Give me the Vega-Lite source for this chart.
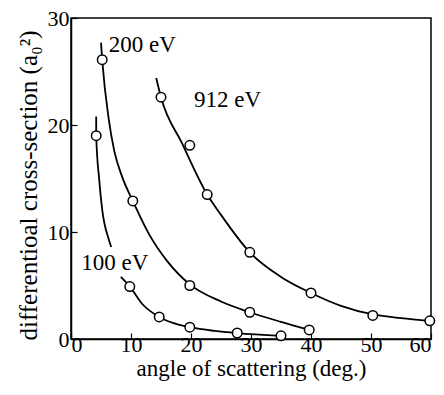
{
  "$schema": "https://vega.github.io/schema/vega-lite/v6.json",
  "width": 360,
  "height": 321,
  "autosize": "none",
  "padding": {"left": 71, "top": 18, "right": 13, "bottom": 56},
  "background": "white",
  "config": {
    "view": {"stroke": "black", "strokeWidth": 1.5},
    "font": "Liberation Serif",
    "axis": {
      "grid": false,
      "domainColor": "black",
      "domainWidth": 1.5,
      "tickColor": "black",
      "tickWidth": 1.2,
      "labelColor": "black",
      "titleColor": "black",
      "labelFont": "Liberation Serif",
      "titleFont": "Liberation Serif",
      "labelFontSize": 22,
      "titleFontSize": 23,
      "titleFontWeight": "normal"
    }
  },
  "datasets": {
    "curves": [
      {"series": "100a", "angle": 4.2, "xs": 20.8},
      {"series": "100a", "angle": 4.2, "xs": 19.0},
      {"series": "100a", "angle": 4.7, "xs": 14.9},
      {"series": "100a", "angle": 5.2, "xs": 12.1},
      {"series": "100a", "angle": 6.3, "xs": 9.3},
      {"series": "100a", "angle": 6.7, "xs": 8.6},
      {"series": "100b", "angle": 8.3, "xs": 5.8},
      {"series": "100b", "angle": 9.8, "xs": 4.9},
      {"series": "100b", "angle": 12.0, "xs": 3.2},
      {"series": "100b", "angle": 14.7, "xs": 2.06},
      {"series": "100b", "angle": 17.0, "xs": 1.5},
      {"series": "100b", "angle": 19.8, "xs": 1.1},
      {"series": "100b", "angle": 24.0, "xs": 0.75},
      {"series": "100b", "angle": 27.7, "xs": 0.55},
      {"series": "100b", "angle": 35.0, "xs": 0.3},
      {"series": "200", "angle": 5.0, "xs": 27.7},
      {"series": "200", "angle": 5.2, "xs": 26.1},
      {"series": "200", "angle": 6.3, "xs": 20.5},
      {"series": "200", "angle": 7.2, "xs": 17.6},
      {"series": "200", "angle": 8.5, "xs": 15.2},
      {"series": "200", "angle": 10.3, "xs": 12.9},
      {"series": "200", "angle": 13.0, "xs": 9.8},
      {"series": "200", "angle": 16.0, "xs": 7.3},
      {"series": "200", "angle": 19.8, "xs": 5.1},
      {"series": "200", "angle": 25.0, "xs": 3.5},
      {"series": "200", "angle": 29.8, "xs": 2.5},
      {"series": "200", "angle": 35.0, "xs": 1.6},
      {"series": "200", "angle": 39.7, "xs": 0.85},
      {"series": "912", "angle": 14.2, "xs": 24.4},
      {"series": "912", "angle": 15.0, "xs": 22.6},
      {"series": "912", "angle": 18.5, "xs": 18.3},
      {"series": "912", "angle": 22.7, "xs": 13.5},
      {"series": "912", "angle": 25.0, "xs": 11.6},
      {"series": "912", "angle": 29.8, "xs": 8.1},
      {"series": "912", "angle": 35.0, "xs": 5.8},
      {"series": "912", "angle": 40.0, "xs": 4.3},
      {"series": "912", "angle": 45.0, "xs": 3.1},
      {"series": "912", "angle": 50.3, "xs": 2.3},
      {"series": "912", "angle": 55.0, "xs": 1.95},
      {"series": "912", "angle": 59.8, "xs": 1.7}
    ],
    "points": [
      {"series": "100", "angle": 4.2, "xs": 19.0},
      {"series": "100", "angle": 9.8, "xs": 4.9},
      {"series": "100", "angle": 14.7, "xs": 2.06},
      {"series": "100", "angle": 19.8, "xs": 1.1},
      {"series": "100", "angle": 27.7, "xs": 0.56},
      {"series": "100", "angle": 35.0, "xs": 0.3},
      {"series": "200", "angle": 5.2, "xs": 26.1},
      {"series": "200", "angle": 10.3, "xs": 12.9},
      {"series": "200", "angle": 19.8, "xs": 5.0},
      {"series": "200", "angle": 29.8, "xs": 2.5},
      {"series": "200", "angle": 39.7, "xs": 0.85},
      {"series": "912", "angle": 15.0, "xs": 22.6},
      {"series": "912", "angle": 19.8, "xs": 18.1},
      {"series": "912", "angle": 22.7, "xs": 13.5},
      {"series": "912", "angle": 29.8, "xs": 8.1},
      {"series": "912", "angle": 40.0, "xs": 4.3},
      {"series": "912", "angle": 50.3, "xs": 2.2},
      {"series": "912", "angle": 59.8, "xs": 1.7}
    ],
    "labels": [
      {"label": "200 eV", "angle": 6.3, "xs": 27.5},
      {"label": "912 eV", "angle": 20.5, "xs": 22.3},
      {"label": "100 eV", "angle": 1.7, "xs": 7.1}
    ]
  },
  "encoding": {
    "x": {
      "field": "angle", "type": "quantitative",
      "scale": {"domain": [0, 60], "nice": false},
      "axis": {"values": [0, 10, 20, 30, 40, 50, 60], "tickSize": -6, "labelPadding": 1, "title": "angle of scattering (deg.)", "titleFontSize": 23, "titlePadding": 2}
    },
    "y": {
      "field": "xs", "type": "quantitative",
      "scale": {"domain": [0, 30], "nice": false},
      "axis": {"values": [0, 10, 20, 30], "tickSize": -6, "labelPadding": 8, "title": "differentioal cross-section (a₀²)", "titleFontSize": 25, "titlePadding": 6, "titleY": 167}
    }
  },
  "layer": [
    {
      "data": {"name": "curves"},
      "mark": {"type": "line", "interpolate": "monotone", "color": "black", "strokeWidth": 1.8},
      "encoding": {"detail": {"field": "series"}}
    },
    {
      "data": {"name": "points"},
      "mark": {"type": "point", "shape": "circle", "filled": false, "fill": "white", "fillOpacity": 1, "stroke": "black", "strokeWidth": 1.5, "size": 90, "opacity": 1}
    },
    {
      "data": {"name": "labels"},
      "mark": {"type": "text", "align": "left", "baseline": "middle", "font": "Liberation Serif", "fontSize": 23, "color": "black"},
      "encoding": {"text": {"field": "label"}}
    }
  ]
}
